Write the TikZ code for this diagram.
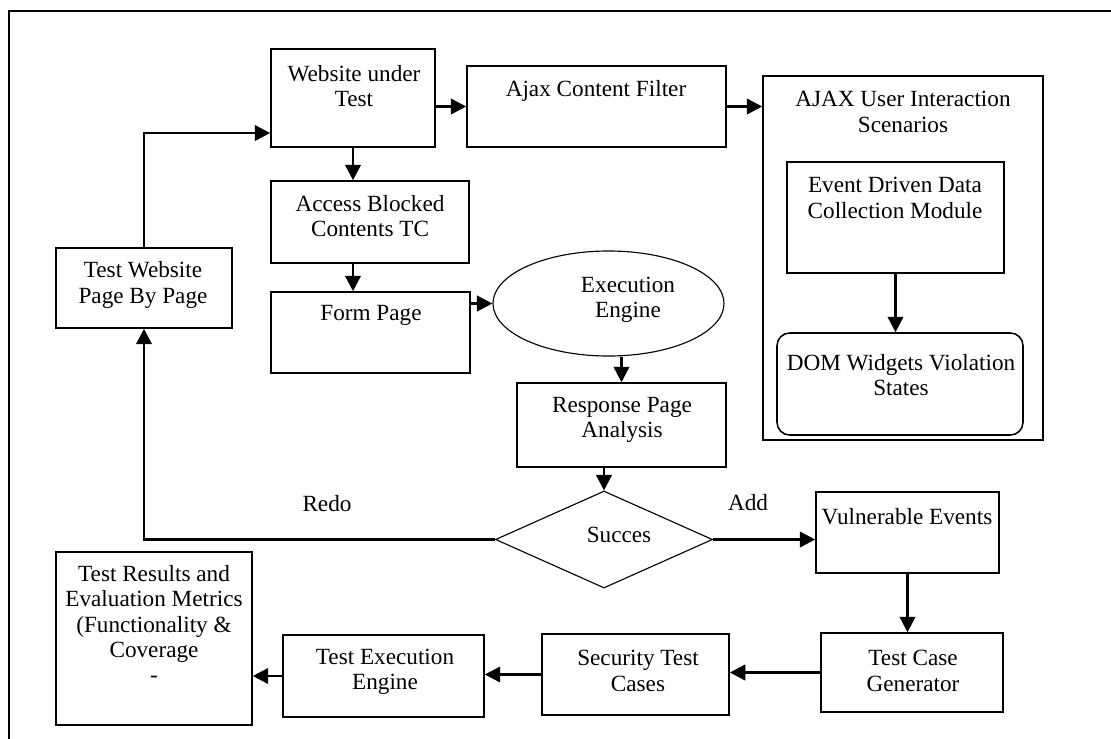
\documentclass[tikz,border=0pt]{standalone}
\usepackage{fontspec}
\setmainfont{Liberation Serif}
\usetikzlibrary{arrows.meta,shapes.geometric,fit}
\tikzset{
	box/.style={draw,line width=1.1pt,inner sep=0pt},
	txt/.style={align=center,inner sep=0pt,font=\fontsize{16.5}{18.1}\selectfont},
	arr/.style={-{Triangle[length=11pt,width=11pt]},line width=1.8pt},
}
\begin{document}
\begin{tikzpicture}[x=0.025cm,y=-0.025cm]
	\useasboundingbox (0,0) rectangle (1111,738);
	\draw[line width=1.5pt] (9,11) rectangle (1125,752); %Rahmen
	
	\node[box,fit={(271,49) (435,147)}] (web) {}; \node[txt] (webT) at (354,86) {Website under\\Test};
	\node[box,fit={(467,66) (726,147)}] (ajax) {}; \node[txt] (ajaxT) at (596,91) {Ajax Content Filter};
	\node[box,fit={(763,76) (1043,440)}] (scen) {}; \node[txt] (scenT) at (903,112) {AJAX User Interaction\\Scenarios};
	\node[box,fit={(787,162) (1004,273)}] (event) {}; \node[txt] (eventT) at (895,198) {Event Driven Data\\Collection Module};
	\node[box,rounded corners=9pt,fit={(777,333) (1023,435)}] (dom) {}; \node[txt] (domT) at (901,375) {DOM Widgets Violation\\States};
	
	\node[box,fit={(271,181) (469,263)}] (access) {}; \node[txt] (accessT) at (370,216) {Access Blocked\\Contents TC};
	\node[box,fit={(271,292) (470,373)}] (form) {}; \node[txt] (formT) at (371,315) {Form Page};
	\node[box,fit={(56,248) (232,328)}] (page) {}; \node[txt] (pageT) at (143,285) {Test Website\\Page By Page};
	
	\node[draw,ellipse,line width=0.8pt,inner sep=0pt,minimum width=5.775cm,minimum height=2.625cm] (exec) at (608.5,303.5) {};
	\node[txt] (execT) at (628,300) {Execution\\Engine};
	\node[box,fit={(517,383) (726,467)}] (resp) {}; \node[txt] (respT) at (622,420) {Response Page\\Analysis};
	\node[draw,diamond,line width=0.8pt,inner sep=0pt,minimum width=5.425cm,minimum height=2.425cm] (succ) at (604,539.5) {};
	\node[txt] (succT) at (619,535) {Succes};
	
	\node[box,fit={(816,492) (999,573)}] (vuln) {}; \node[txt] (vulnT) at (907,517) {Vulnerable Events};
	\node[box,fit={(821,633) (1003,712)}] (gen) {}; \node[txt] (genT) at (913,671) {Test Case\\Generator};
	\node[box,fit={(542,634) (729,715)}] (sec) {}; \node[txt] (secT) at (638,671) {Security Test\\Cases};
	\node[box,fit={(283,635) (484,717)}] (run) {}; \node[txt] (runT) at (385,672) {Test Execution\\Engine};
	\node[box,fit={(56,552) (252,725)}] (res) {}; \node[txt] (resT) at (154,624) {Test Results and\\Evaluation Metrics\\(Functionality \&\\Coverage\\-};
	
	\node[txt] (redo) at (327,504) {Redo}; \node[txt] (add) at (748,503) {Add};
	
	\draw[arr] (web.east |- ajax.west) -- (ajax.west);
	\draw[arr] (ajax.east) -- (ajax.east -| scen.west);
	\draw[arr] (event.south) -- (event.south |- dom.north);
	\draw[arr] (web.south) -- (web.south |- access.north);
	\draw[arr] (web.south |- access.south) -- (web.south |- form.north);
	\draw[arr] (form.east |- exec.west) -- (exec.west);
	\draw[arr] (resp.north |- exec.south) -- (resp.north);
	\draw[arr] (resp.south -| succ.north) -- (succ.north);
	\draw[arr] (page.north) |- ([yshift=-0.875cm]web.west);
	\draw[arr] (succ.west) -| (page.south);
	\draw[arr] (succ.east) -- (succ.east -| vuln.west);
	\draw[arr] (vuln.south) -- (vuln.south |- gen.north);
	\draw[arr] (gen.west) -- (gen.west -| sec.east);
	\draw[arr] (sec.west) -- (sec.west -| run.east);
	\draw[arr] (run.west) -- (run.west -| res.east);
\end{tikzpicture}
\end{document}
